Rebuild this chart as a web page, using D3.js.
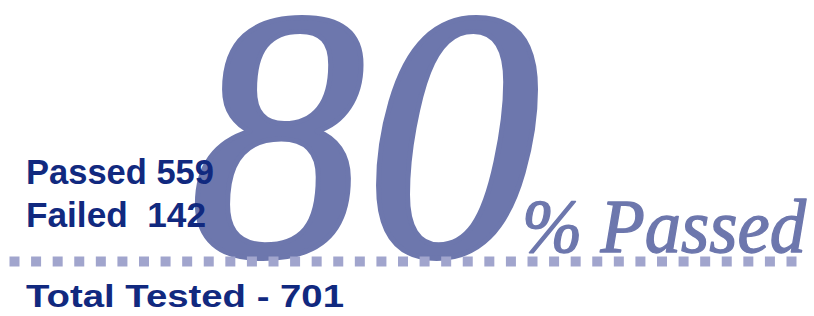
<!DOCTYPE html>
<html>
<head>
<meta charset="utf-8">
<script src="https://cdn.jsdelivr.net/npm/d3@7"></script>
<style>
  html, body { margin: 0; padding: 0; background: #ffffff; }
  svg { display: block; }
</style>
</head>
<body>
<script>
// ---- data ----
const categories = ["Passed", "Failed"];
const counts = [559, 142];
const totalLabel = "Total Tested";
const percentLabel = "% Passed";
const dotCount = 37;

const total = d3.sum(counts);
const pct = Math.round(counts[0] / total * 100);

// ---- layout ----
const W = 814, H = 316;
const navy = "#11297f";
const slate = "#6d77ad";
const dotColor = "#a1a5cd";

const svg = d3.select("body").append("svg")
  .attr("width", W).attr("height", H);

// big percentage number
svg.append("text")
  .attr("x", 190)
  .attr("y", 255)
  .attr("font-family", "'Liberation Serif', 'Times New Roman', serif")
  .attr("font-style", "italic")
  .attr("font-size", 357)
  .attr("textLength", 350)
  .attr("lengthAdjust", "spacingAndGlyphs")
  .attr("fill", slate)
  .attr("stroke", slate)
  .attr("stroke-width", 5)
  .attr("stroke-linejoin", "round")
  .text(pct);

// "% Passed"
svg.append("text")
  .attr("x", 522)
  .attr("y", 252)
  .attr("font-family", "'Liberation Serif', 'Times New Roman', serif")
  .attr("font-style", "italic")
  .attr("font-size", 76)
  .attr("textLength", 284)
  .attr("lengthAdjust", "spacingAndGlyphs")
  .attr("fill", slate)
  .attr("stroke", slate)
  .attr("stroke-width", 1.4)
  .attr("stroke-linejoin", "round")
  .text(percentLabel);

// counts
const y = d3.scalePoint().domain(categories).range([184, 227]);
const countLen = [188, 180];
svg.selectAll("text.count")
  .data(categories)
  .enter().append("text")
  .attr("class", "count")
  .attr("x", 26)
  .attr("y", d => y(d))
  .attr("font-family", "'Liberation Sans', Arial, sans-serif")
  .attr("font-weight", "bold")
  .attr("font-size", 35)
  .attr("textLength", (d, i) => countLen[i])
  .attr("lengthAdjust", "spacingAndGlyphs")
  .attr("fill", navy)
  .style("white-space", "pre")
  .text((d, i) => i === 0 ? `${d} ${counts[i]}` : `${d}  ${counts[i]}`);

// dotted rule
const x = d3.scaleLinear().domain([0, dotCount - 1]).range([9.5, 786.5]);
svg.selectAll("rect.dot")
  .data(d3.range(dotCount))
  .enter().append("rect")
  .attr("class", "dot")
  .attr("x", d => x(d))
  .attr("y", 256.5)
  .attr("width", 10)
  .attr("height", 10)
  .attr("fill", dotColor);

// total
svg.append("text")
  .attr("x", 26)
  .attr("y", 307)
  .attr("font-family", "'Liberation Sans', Arial, sans-serif")
  .attr("font-weight", "bold")
  .attr("font-size", 31)
  .attr("textLength", 318)
  .attr("lengthAdjust", "spacingAndGlyphs")
  .attr("fill", navy)
  .text(`${totalLabel} - ${total}`);
</script>
</body>
</html>
